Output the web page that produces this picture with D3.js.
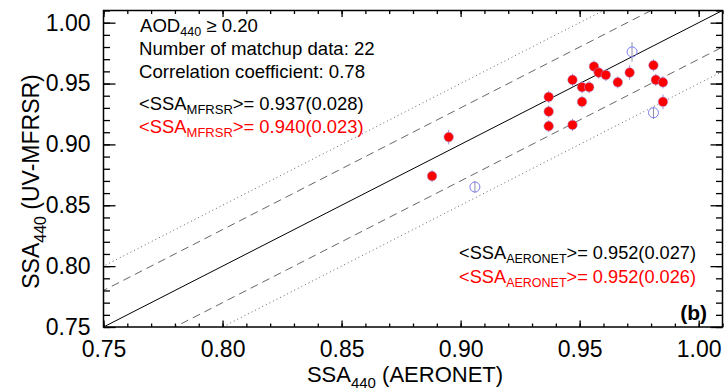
<!DOCTYPE html>
<html>
<head>
<meta charset="utf-8">
<script src="https://cdn.jsdelivr.net/npm/d3@7"></script>
<style>
  body { margin: 0; background: #fff; }
  text { font-family: "Liberation Sans", Arial, Helvetica, sans-serif; }
</style>
</head>
<body>
<svg></svg>
<script>
// matchups with AOD440 >= 0.20 (red filled)
let redAeronet = [0.895, 0.888, 0.937, 0.937, 0.937, 0.947, 0.947, 0.951, 0.954, 0.951,
                  0.956, 0.958, 0.961, 0.966, 0.971, 0.981, 0.982, 0.985, 0.985]
let redMfrsr   = [0.906, 0.874, 0.939, 0.927, 0.915, 0.953, 0.916, 0.947, 0.947, 0.935,
                  0.964, 0.959, 0.957, 0.951, 0.959, 0.965, 0.953, 0.951, 0.935]
let redErr     = [0.006, 0.005, 0.005, 0.005, 0.005, 0.005, 0.005, 0.005, 0.005, 0.005,
                  0.005, 0.005, 0.005, 0.005, 0.006, 0.005, 0.005, 0.005, 0.006]

// remaining matchups (blue open)
let openAeronet = [0.906, 0.972, 0.981]
let openMfrsr   = [0.865, 0.976, 0.926]
let openErr     = [0.005, 0.008, 0.005]

let majorTicks = [0.75, 0.80, 0.85, 0.90, 0.95, 1.00]
let minorTicks = d3.range(75, 102).map(d => d / 100)
let envelopes = [0.03, 0.05]

let width = 725
let height = 390
let padL = 103.5, padR = 722.5, padT = 10.5, padB = 327

let svg = d3.select("svg").attr("width", width).attr("height", height)

let x = d3.scaleLinear().domain([0.75, 1.01]).range([padL, padR])
let y = d3.scaleLinear().domain([0.75, 1.01]).range([padB, padT])

svg.append("clipPath").attr("id", "clip")
    .append("rect")
    .attr("x", padL).attr("y", padT)
    .attr("width", padR - padL).attr("height", padB - padT)

let plot = svg.append("g").attr("clip-path", "url(#clip)")

// 1:1 line and +-0.03 / +-0.05 envelopes
let line = d3.line().x(d => x(d[0])).y(d => y(d[1]))
plot.append("path")
    .attr("d", line([[0.7, 0.7], [1.05, 1.05]]))
    .attr("fill", "none").attr("stroke", "#000").attr("stroke-width", 1)

envelopes.forEach((off, i) => {
    [off, -off].forEach(o => {
        plot.append("path")
            .attr("d", line([[0.7, 0.7 + o], [1.05, 1.05 + o]]))
            .attr("fill", "none")
            .attr("stroke", "#555")
            .attr("stroke-width", 0.9)
            .attr("stroke-dasharray", i == 0 ? "8,5" : "1,3")
    })
})

// error bars
let drawErr = (xs, ys, es, color) => {
    plot.append("g").selectAll("line")
        .data(xs)
        .enter()
        .append("line")
        .attr("x1", (d) => x(d))
        .attr("x2", (d) => x(d))
        .attr("y1", (d, i) => y(ys[i] - es[i]))
        .attr("y2", (d, i) => y(ys[i] + es[i]))
        .attr("stroke", color)
        .attr("stroke-width", 1)
}

drawErr(openAeronet, openMfrsr, openErr, "#8c8ca8")
drawErr(redAeronet, redMfrsr, redErr, "#9a8cc8")

plot.append("g").selectAll("circle")
    .data(openAeronet)
    .enter()
    .append("circle")
    .attr("cx", (d) => x(d))
    .attr("cy", (d, i) => y(openMfrsr[i]))
    .attr("r", 5)
    .attr("fill", "none")
    .attr("stroke", "#7f7ff0")
    .attr("stroke-width", 1)

plot.append("g").selectAll("circle")
    .data(redAeronet)
    .enter()
    .append("circle")
    .attr("cx", (d) => x(d))
    .attr("cy", (d, i) => y(redMfrsr[i]))
    .attr("r", 4.8)
    .attr("fill", "#ff0000")
    .attr("stroke", "#a09cf0")
    .attr("stroke-width", 0.5)

// axes, ticks pointing inward on all sides
let fmt = d3.format(".2f")
let addAxis = (axis, tx, ty, values, size, labels, pad) => {
    let g = svg.append("g")
        .attr("transform", "translate(" + tx + "," + ty + ")")
        .call(axis.tickValues(values)
            .tickSizeInner(-size)
            .tickSizeOuter(0)
            .tickPadding(pad || 3)
            .tickFormat(labels ? fmt : ""))
    g.select(".domain").remove()
    g.selectAll(".tick line").attr("stroke", "#000").attr("stroke-width", 1.3)
    g.selectAll(".tick text")
        .attr("fill", "#000")
        .style("font-size", "23px")
        .style("font-family", "'Liberation Sans', Arial, sans-serif")
    return g
}

addAxis(d3.axisBottom(x), 0, padB, minorTicks, 3.5, false)
addAxis(d3.axisBottom(x), 0, padB, majorTicks, 6.5, true, 14)
addAxis(d3.axisTop(x), 0, padT, minorTicks, 3.5, false)
addAxis(d3.axisTop(x), 0, padT, majorTicks, 6.5, false)
addAxis(d3.axisLeft(y), padL, 0, minorTicks, 6.5, false)
addAxis(d3.axisLeft(y), padL, 0, majorTicks, 12, true, 13)
addAxis(d3.axisRight(y), padR, 0, minorTicks, 6.5, false)
addAxis(d3.axisRight(y), padR, 0, majorTicks, 12, false)

svg.append("rect")
    .attr("x", padL).attr("y", padT)
    .attr("width", padR - padL).attr("height", padB - padT)
    .attr("fill", "none").attr("stroke", "#000").attr("stroke-width", 1.5)

// text with subscripts
let richText = (parent, parts, px, py, size, subSize, subShift, color, anchor) => {
    let t = parent.append("text")
        .attr("x", px).attr("y", py)
        .attr("fill", color)
        .attr("text-anchor", anchor || "start")
        .style("font-size", size + "px")
    parts.forEach(p => {
        if (p.sub) {
            t.append("tspan").attr("dy", subShift).style("font-size", subSize + "px").text(p.sub)
        } else {
            t.append("tspan").attr("dy", p.after ? -subShift : 0).text(p.t)
        }
    })
    return t
}

richText(svg, [{t: "AOD"}, {sub: "440"}, {t: " \u2265 0.20", after: true}], 140, 31.7, 18.6, 12.5, 4, "#000")
richText(svg, [{t: "Number of matchup data: 22"}], 139, 55, 18.6, 12.5, 4, "#000")
richText(svg, [{t: "Correlation coefficient: 0.78"}], 139, 78.3, 18.6, 12.5, 4, "#000")
richText(svg, [{t: "<SSA"}, {sub: "MFRSR"}, {t: ">= 0.937(0.028)", after: true}], 139, 110, 18.4, 13, 4, "#000")
richText(svg, [{t: "<SSA"}, {sub: "MFRSR"}, {t: ">= 0.940(0.023)", after: true}], 139, 132.7, 18.4, 13, 4, "#ff0000")
richText(svg, [{t: "<SSA"}, {sub: "AERONET"}, {t: ">= 0.952(0.027)", after: true}], 696, 259.3, 18.2, 12.5, 4, "#000", "end")
richText(svg, [{t: "<SSA"}, {sub: "AERONET"}, {t: ">= 0.952(0.026)", after: true}], 696, 283.3, 18.2, 12.5, 4, "#ff0000", "end")

svg.append("text")
    .attr("x", 707).attr("y", 320)
    .attr("text-anchor", "end")
    .style("font-size", "21px").style("font-weight", "bold")
    .text("(b)")

// axis titles
richText(svg, [{t: "SSA"}, {sub: "440"}, {t: " (AERONET)", after: true}], 405, 382, 22, 15, 6, "#000", "middle")
richText(svg.append("g").attr("transform", "translate(39,181.5) rotate(-90)"),
    [{t: "SSA"}, {sub: "440"}, {t: " (UV-MFRSR)", after: true}], 0, 0, 23, 16, 7, "#000", "middle")
</script>
</body>
</html>
